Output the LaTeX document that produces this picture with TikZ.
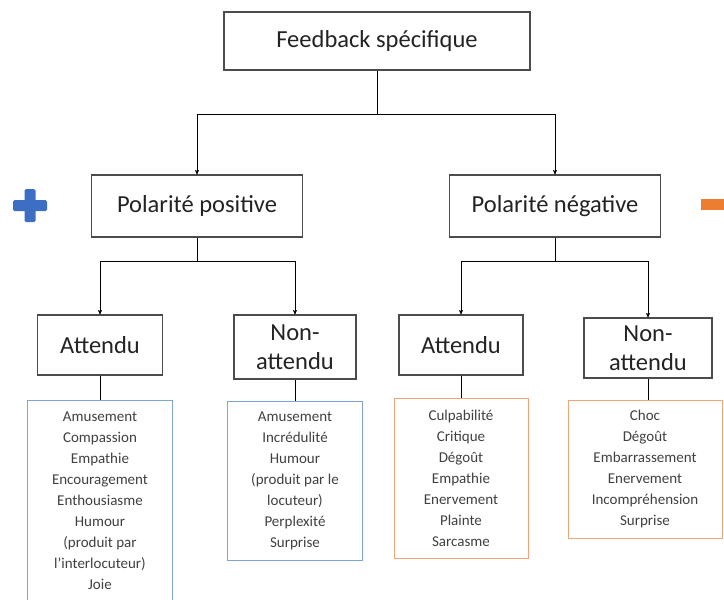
\documentclass[tikz,border=0pt]{standalone}
\usepackage{fontspec}
\setmainfont{Carlito}
\usetikzlibrary{arrows,positioning}
\definecolor{posblue}{RGB}{60,110,195}
\definecolor{negorange}{RGB}{237,125,49}
\definecolor{posline}{RGB}{125,165,215}
\definecolor{negline}{RGB}{240,165,125}
\definecolor{boxtext}{RGB}{35,35,35}

\begin{document}
\begin{tikzpicture}[x=1pt,y=-1pt,->,>=stealth',semithick,
                box/.style={draw=black!70,line width=1.2pt,rectangle,align=center,
                  text=boxtext,font=\fontsize{24.5}{29}\selectfont},
                lst/.style={rectangle,thin,align=center,text=black!75,
                  font=\fontsize{15}{21}\selectfont}]
                \useasboundingbox (0,0) rectangle (724,600);

                % Define the boxes
                \node[box,minimum width=306,minimum height=58] (T)  at (377,41)  {Feedback spécifique};
                \node[box,minimum width=211,minimum height=62] (PP) at (197,206) {Polarité positive};
                \node[box,minimum width=211,minimum height=62] (PN) at (555,206) {Polarité négative};

                \node[box,minimum width=125,minimum height=60] (A1) at (100,345) {Attendu};
                \node[box,minimum width=122,minimum height=64] (N1) at (295,347) {Non-\\attendu};
                \node[box,minimum width=124,minimum height=60] (A2) at (461,345) {Attendu};
                \node[box,minimum width=128,minimum height=60] (N2) at (648,348) {Non-\\attendu};

                % Lists of emotions
                \node[lst,draw=posline,minimum width=145,minimum height=201] (L1) at (100,500.5)
                  {Amusement\\Compassion\\Empathie\\Encouragement\\Enthousiasme\\Humour\\(produit par\\l'interlocuteur)\\Joie};
                \node[lst,draw=posline,minimum width=135,minimum height=159] (L2) at (295,480.5)
                  {Amusement\\Incrédulité\\Humour\\(produit par le\\locuteur)\\Perplexité\\Surprise};
                \node[lst,draw=negline,minimum width=134,minimum height=160] (L3) at (461,478)
                  {Culpabilité\\Critique\\Dégoût\\Empathie\\Enervement\\Plainte\\Sarcasme};
                \node[lst,draw=negline,minimum width=154,minimum height=138] (L4) at (645,469)
                  {Choc\\Dégoût\\Embarrassement\\Enervement\\Incompréhension\\Surprise};

                % Connect the boxes with arrows
                \draw (T.south) -- ++(0,44) -| (PP.north);
                \draw (T.south) -- ++(0,44) -| (PN.north);
                \draw (PP.south) -- ++(0,24) -| (A1.north);
                \draw (PP.south) -- ++(0,24) -| (N1.north);
                \draw (PN.south) -- ++(0,24) -| (A2.north);
                \draw (PN.south) -- ++(0,24) -| (N2.north);

                \draw[-] (A1.south) -- (L1.north);
                \draw[-] (N1.south) -- (N1.south |- L2.north);
                \draw[-] (A2.south) -- (L3.north);
                \draw[-] (N2.south) -- (N2.south |- L4.north);

                % Plus and minus signs
                \fill[posblue,rounded corners=1.5pt] (24.5,189) rectangle (35.5,222);
                \fill[posblue,rounded corners=1.5pt] (13,200) rectangle (47,211);
                \fill[negorange] (701,199) rectangle (726,210);

            \end{tikzpicture}
\end{document}
